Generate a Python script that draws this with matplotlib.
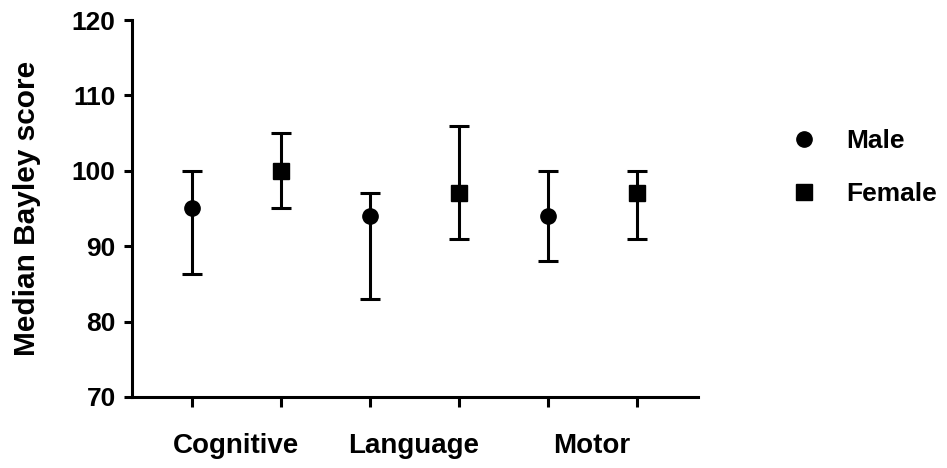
import matplotlib

matplotlib.use("Agg")
import matplotlib.pyplot as plt

plt.rcParams["font.family"] = ["Liberation Sans", "DejaVu Sans"]
plt.rcParams["font.weight"] = "bold"

domains = ["Cognitive", "Language", "Motor"]
groups = ["Male", "Female"]
male_median = [95, 94, 94]
male_low = [86.3, 83, 88]
male_high = [100, 97, 100]
female_median = [100, 97, 97]
female_low = [95, 91, 91]
female_high = [105, 106, 100]

STYLE = {"Male": "o", "Female": "s"}

fig = plt.figure(figsize=(9.47, 4.68), dpi=100)
ax = fig.add_axes([0.139, 0.152, 0.598, 0.805])

series = {"Male": (male_median, male_low, male_high),
          "Female": (female_median, female_low, female_high)}
handles = []
for gi, name in enumerate(groups):
    med, lo, hi = series[name]
    xs = [2 * i + gi for i in range(len(domains))]
    yerr = [[m - l for m, l in zip(med, lo)], [h - m for m, h in zip(med, hi)]]
    cont = ax.errorbar(xs, med, yerr=yerr, fmt=STYLE[name], color="black",
                       ms=11, elinewidth=2.2, capsize=7.5, capthick=2.2,
                       label=name, zorder=3)
    handles.append(cont.lines[0])

ax.set_xlim(-0.674, 5.69)
ax.set_ylim(70, 120)
ax.set_yticks(range(70, 121, 10))
ax.set_xticks([0, 1, 2, 3, 4, 5], minor=True)
ax.set_xticks([0.5, 2.5, 4.5])
ax.set_xticklabels(domains, fontsize=20, fontweight="bold")
ax.tick_params(axis="x", which="major", length=0, pad=26)
ax.tick_params(axis="x", which="minor", length=7, width=2.2)
ax.tick_params(axis="y", length=6, width=2.2, labelsize=19, pad=5.5)
for lab in ax.get_yticklabels():
    lab.set_fontweight("bold")

for s in ["top", "right"]:
    ax.spines[s].set_visible(False)
for s in ["left", "bottom"]:
    ax.spines[s].set_linewidth(2.2)

ax.set_ylabel("Median Bayley score", fontsize=21.5, fontweight="bold")
ax.yaxis.set_label_coords((41 - 132) / 566, 0.5)

fig.legend(handles, groups, loc="upper left", bbox_to_anchor=(0.81, 0.775),
           frameon=False, handlelength=1.0, handletextpad=1.1,
           labelspacing=1.1, prop={"size": 19, "weight": "bold"})

fig.savefig("out.png", dpi=100)
